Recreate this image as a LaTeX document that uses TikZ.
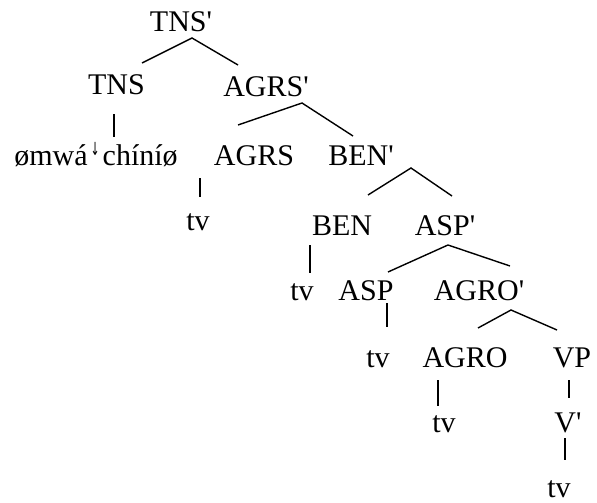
\documentclass[tikz,border=0pt]{standalone}
\usepackage{fontspec}
\setmainfont{Liberation Serif}
\newfontfamily\arrowfont{DejaVu Sans}
\usetikzlibrary{calc}
\newcommand{\pr}{\textquotesingle}
\tikzset{
  lbl/.style={anchor=base, inner sep=0pt, font=\fontsize{30}{32}\selectfont},
  branch/.style={line width=1.4pt, line cap=butt}
}
\begin{document}
\begin{tikzpicture}[x=1pt, y=-1pt]
\useasboundingbox (0,0) rectangle (597,503);
\node[lbl] (tnsbar) at (181,32) {TNS\pr};
\node[lbl] (tns) at (116.5,95) {TNS};
\node[lbl] (agrsbar) at (266,96) {AGRS\pr};
\node[lbl] (omwa) at (96,165) {ømwá\hspace{3pt}\raisebox{10pt}{\scalebox{0.6}[1]{\fontsize{18}{18}\arrowfont ↓}}\hspace{3pt}chíníø};
\node[lbl] (agrs) at (254,165) {AGRS};
\node[lbl] (benbar) at (361,165) {BEN\pr};
\node[lbl] (tv1) at (198,230) {tv};
\node[lbl] (ben) at (342,235) {BEN};
\node[lbl] (aspbar) at (445,235) {ASP\pr};
\node[lbl] (tv2) at (302,300) {tv};
\node[lbl] (asp) at (366,300) {ASP};
\node[lbl] (agrobar) at (479,300) {AGRO\pr};
\node[lbl] (tv3) at (378,367) {tv};
\node[lbl] (agro) at (465,367) {AGRO};
\node[lbl] (vp) at (572,367) {VP};
\node[lbl] (tv4) at (444,432) {tv};
\node[lbl] (vbar) at (568,432) {V\pr};
\node[lbl] (tv5) at (559,497) {tv};

\draw[branch] ($(tns.base)+(25.5,-32)$) -- ($(tnsbar.base)+(11,6)$) -- ($(agrsbar.base)+(-28,-31)$);
\draw[branch] ($(tns.base)+(-2.5,19)$) -- ($(omwa.base)+(18,-28)$);
\draw[branch] ($(agrs.base)+(-16,-40)$) -- ($(agrsbar.base)+(36,7)$) -- ($(benbar.base)+(-8,-29)$);
\draw[branch] ($(agrs.base)+(-54,13)$) -- ($(tv1.base)+(2,-33)$);
\draw[branch] ($(ben.base)+(26,-40)$) -- ($(benbar.base)+(50,3)$) -- ($(aspbar.base)+(7,-39)$);
\draw[branch] ($(ben.base)+(-32,10)$) -- ($(tv2.base)+(8,-27)$);
\draw[branch] ($(asp.base)+(22,-28)$) -- ($(aspbar.base)+(3,10)$) -- ($(agrobar.base)+(31,-34)$);
\draw[branch] ($(asp.base)+(21,3)$) -- ($(tv3.base)+(9,-40)$);
\draw[branch] ($(agro.base)+(13,-39)$) -- ($(agrobar.base)+(32,10)$) -- ($(vp.base)+(-15,-37)$);
\draw[branch] ($(agro.base)+(-27,13)$) -- ($(tv4.base)+(-6,-26)$);
\draw[branch] ($(vp.base)+(-3,13)$) -- ($(vbar.base)+(1,-34)$);
\draw[branch] ($(vbar.base)+(-3,6)$) -- ($(tv5.base)+(6,-37)$);
\end{tikzpicture}
\end{document}
